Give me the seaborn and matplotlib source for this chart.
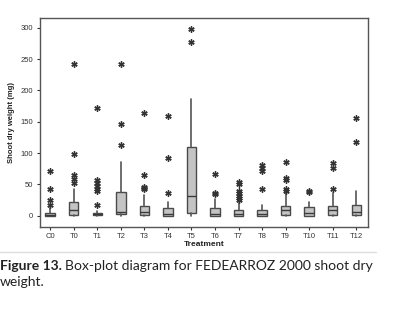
import matplotlib
matplotlib.use("Agg")
import matplotlib.pyplot as plt
import seaborn as sns

# box-plot summaries (mg)
treatments = ['C0', 'T0', 'T1', 'T2', 'T3', 'T4', 'T5', 'T6', 'T7', 'T8', 'T9', 'T10', 'T11', 'T12']
q1 = [0, 1, 0.5, 3, 1, 0, 5, 0, 0, 0, 1, 0, 1, 1]
median = [1, 10, 3, 6, 6, 3, 31, 3, 3, 3, 9, 5, 9, 6]
q3 = [5, 22, 5, 38, 15, 12, 109, 13, 10, 9, 15, 14, 16, 17]
whis_lo = [0, 0, 0, 0, 0, 0, 0, 0, 0, 0, 0, 0, 0, 0]
whis_hi = [12, 42, 7, 86, 33, 22, 186, 26, 20, 17, 37, 22, 36, 39]
outliers = [
    [71, 43, 25, 18],
    [242, 99, 65, 58, 53],
    [172, 57, 53, 48, 43, 39, 17],
    [242, 146, 113],
    [164, 65, 46, 44, 43],
    [159, 92, 36],
    [298, 278],
    [67, 37, 35],
    [54, 51, 39, 36, 32, 28, 25],
    [81, 76, 72, 43],
    [86, 60, 57, 43, 40],
    [39, 38],
    [84, 76, 43],
    [156, 117],
]

sns.set_style("white")
plt.rcParams['font.family'] = ['Liberation Sans', 'DejaVu Sans']

fig = plt.figure(figsize=(4, 3.23), dpi=100)
ax = fig.add_axes([0.099, 0.298, 0.821, 0.647])

stats = []
for i, name in enumerate(treatments):
    stats.append(dict(q1=q1[i], med=median[i], q3=q3[i], whislo=whis_lo[i],
                      whishi=whis_hi[i], fliers=outliers[i], label=name))

ax.bxp(stats, positions=range(len(stats)), widths=0.4, patch_artist=True,
       showcaps=False,
       boxprops=dict(facecolor='#c4c4c4', edgecolor='#4a4a4a', linewidth=1),
       medianprops=dict(color='#3a3a3a', linewidth=1),
       whiskerprops=dict(color='#555555', linewidth=1.2),
       flierprops=dict(marker=(6, 2, 0), markersize=4.5, markeredgewidth=1.0,
                       markerfacecolor='#333333', markeredgecolor='#333333'))

ax.set_xlim(-0.45, 13.5)
ax.set_ylim(-17.5, 316)
ax.set_yticks([0, 50, 100, 150, 200, 250, 300])
ax.tick_params(axis='both', labelsize=5.5, colors='#333333', length=2.5, width=0.8,
               direction='out', left=True, bottom=True, pad=2)
for s in ax.spines.values():
    s.set_color('#555555')
    s.set_linewidth(1.0)
ax.set_xlabel('Treatment', fontsize=6, fontweight='bold', color='#222222', labelpad=1)
ax.set_ylabel('Shoot dry weight (mg)', fontsize=5.5, fontweight='bold', color='#222222', labelpad=4)

# separator line and caption
fig.add_artist(plt.Line2D([0, 0.94], [1 - 251.5 / 323] * 2, color='#dddddd', linewidth=1))
cap_font = ['Lato', 'DejaVu Sans']
t1 = fig.text(0.0, 1 - 266 / 323, 'Figure 13.', fontsize=10, fontweight='bold',
              family=cap_font, color='#222222', va='center')
fig.canvas.draw()
bb = t1.get_window_extent()
fig.text(bb.x1 / fig.bbox.width + 0.008, 1 - 266 / 323,
         'Box-plot diagram for FEDEARROZ 2000 shoot dry',
         fontsize=10, family=cap_font, color='#222222', va='center')
fig.text(0.0, 1 - 282 / 323, 'weight.', fontsize=10, family=cap_font,
         color='#222222', va='center')

fig.savefig('out.png', dpi=100)
